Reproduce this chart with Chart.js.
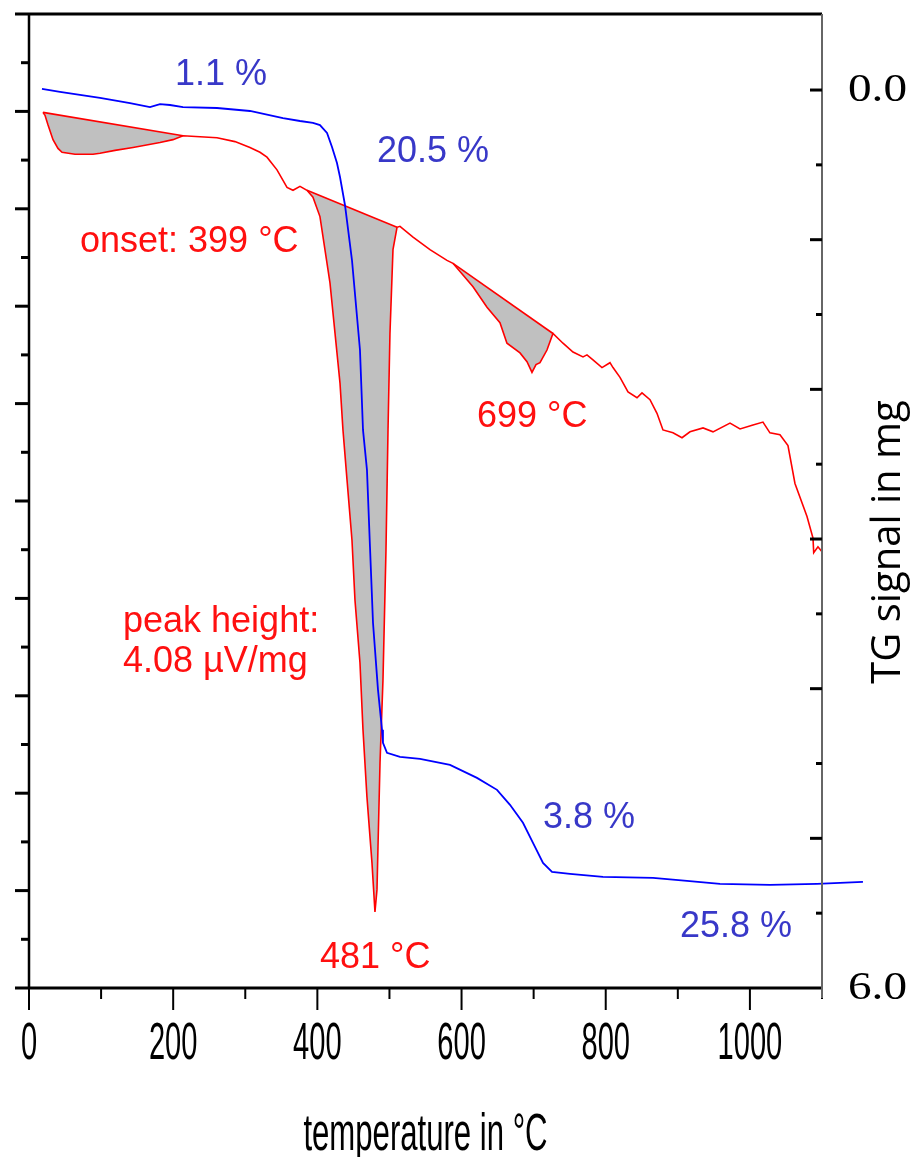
<!DOCTYPE html>
<html lang="en">
<head>
<meta charset="UTF-8">
<title>DTA / TG</title>
<script src="https://cdn.jsdelivr.net/npm/chart.js"></script>
<style>
  html, body { margin: 0; padding: 0; background: #fff; }
  canvas { display: block; }
</style>
</head>
<body>
<canvas id="myChart" width="911" height="1157"></canvas>
<script>
// TG curve (blue, right axis, mg)
const blueTemp = [18.0, 43.0, 70.7, 98.5, 140.1, 167.8, 181.7, 195.6, 213.6, 260.8, 306.5, 352.3, 375.9, 393.9, 403.6, 413.4, 420.3, 427.2, 431.4, 438.3, 448.0, 459.1, 463.3, 468.8, 473.0, 477.2, 484.1, 489.7, 491.0, 496.6, 514.6, 542.4, 584.0, 621.4, 649.2, 667.2, 685.2, 699.1, 713.0, 725.5, 750.4, 796.2, 865.6, 912.7, 958.5, 1027.9, 1093.1, 1156.8];
const blueTg = [-0.007, 0.013, 0.033, 0.053, 0.087, 0.114, 0.094, 0.100, 0.114, 0.120, 0.140, 0.187, 0.207, 0.220, 0.234, 0.287, 0.381, 0.488, 0.581, 0.768, 1.136, 1.737, 2.271, 2.538, 3.053, 3.561, 4.008, 4.275, 4.362, 4.429, 4.456, 4.469, 4.509, 4.596, 4.676, 4.776, 4.896, 5.030, 5.164, 5.224, 5.237, 5.257, 5.264, 5.284, 5.304, 5.311, 5.304, 5.291];

// DTA curve (red, left axis, no labels)
const redTemp = [19.4, 22.2, 26.4, 33.3, 40.2, 45.8, 63.8, 88.8, 98.5, 119.3, 144.3, 181.7, 199.7, 213.6, 237.2, 260.8, 285.7, 306.5, 320.4, 330.1, 344.0, 357.9, 366.2, 375.9, 385.6, 393.9, 403.6, 417.5, 431.4, 435.5, 441.1, 448.0, 452.2, 459.1, 463.3, 468.8, 475.8, 479.9, 482.7, 484.1, 486.9, 491.0, 495.2, 498.0, 500.7, 504.9, 510.5, 514.6, 532.7, 556.2, 579.8, 588.1, 602.0, 615.9, 635.3, 653.3, 663.0, 681.1, 690.8, 697.7, 703.3, 708.8, 718.5, 726.8, 740.7, 754.6, 768.5, 774.0, 782.3, 794.8, 805.9, 810.1, 819.8, 830.9, 843.4, 850.3, 861.4, 871.1, 879.4, 893.3, 905.8, 916.9, 935.0, 948.8, 972.4, 986.3, 1004.3, 1018.1, 1027.8, 1041.7, 1052.8, 1062.5, 1079.2, 1087.5, 1088.5, 1094.4, 1100];
const redDta = [8.99, 8.96, 8.86, 8.71, 8.62, 8.58, 8.56, 8.56, 8.57, 8.60, 8.63, 8.68, 8.71, 8.75, 8.74, 8.73, 8.69, 8.63, 8.58, 8.53, 8.40, 8.22, 8.19, 8.23, 8.19, 8.12, 7.92, 7.24, 6.21, 5.73, 5.22, 4.60, 3.98, 3.34, 2.65, 1.96, 1.28, 0.78, 1.01, 1.45, 2.31, 3.16, 4.50, 5.73, 6.72, 7.58, 7.81, 7.82, 7.71, 7.58, 7.47, 7.44, 7.32, 7.20, 6.99, 6.83, 6.62, 6.52, 6.43, 6.32, 6.40, 6.42, 6.55, 6.72, 6.62, 6.53, 6.48, 6.50, 6.45, 6.37, 6.42, 6.37, 6.27, 6.12, 6.06, 6.11, 6.04, 5.90, 5.73, 5.70, 5.65, 5.71, 5.75, 5.71, 5.80, 5.74, 5.78, 5.81, 5.70, 5.68, 5.57, 5.18, 4.84, 4.62, 4.47, 4.53, 4.48];

// tangent (baseline) lines of the three DTA peaks
const tanStartT = [19.4, 385.6, 588.1];
const tanStartV = [8.99, 8.19, 7.44];
const tanEndT = [213.6, 510.5, 726.8];
const tanEndV = [8.75, 7.81, 6.72];

// axis ticks
const xTicks = [0, 200, 400, 600, 800, 1000];
const rightTicks = [0, 6];

const RED = '#ff0000';
const BLUE = '#0000ff';
const TXT_RED = '#ff1010';
const TXT_BLUE = '#3838c8';

const pts = (xs, ys) => xs.map((t, i) => ({ x: t, y: ys[i] }));
const redPts = pts(redTemp, redDta);

const datasets = [
  { data: pts(blueTemp, blueTg), yAxisID: 'y1', borderColor: BLUE, borderWidth: 1.8, clip: false },
  { data: redPts, yAxisID: 'y', borderColor: RED, borderWidth: 1.6 }
];
tanStartT.forEach((t, i) => {
  datasets.push({
    data: [{ x: t, y: tanStartV[i] }, { x: tanEndT[i], y: tanEndV[i] }],
    yAxisID: 'y', borderColor: RED, borderWidth: 1.6
  });
});
tanStartT.forEach((t, i) => {
  datasets.push({
    data: redPts.filter(p => p.x >= t && p.x <= tanEndT[i]),
    yAxisID: 'y', borderWidth: 0, borderColor: 'rgba(0,0,0,0)',
    backgroundColor: '#c0c0c0', fill: 2 + i
  });
});

function condensed(ctx, str, x, y, font, sx, align) {
  ctx.save();
  ctx.font = font;
  ctx.textAlign = align || 'center';
  ctx.translate(x, y);
  ctx.scale(sx, 1);
  ctx.fillText(str, 0, 0);
  ctx.restore();
}

const frame = {
  id: 'frame',
  afterDraw(chart) {
    const { ctx, scales: { x, y, y1 } } = chart;
    const L = x.left, R = x.right, T = y.top, B = y.bottom;
    ctx.save();
    ctx.strokeStyle = '#000';
    ctx.lineCap = 'butt';

    // top and bottom frame
    ctx.lineWidth = 3;
    ctx.beginPath();
    ctx.moveTo(L - 14, T); ctx.lineTo(R, T);
    ctx.moveTo(L - 14, B); ctx.lineTo(R, B);
    ctx.stroke();

    // left axis
    ctx.lineWidth = 2.5;
    ctx.beginPath();
    ctx.moveTo(L, T); ctx.lineTo(L, B);
    ctx.stroke();
    ctx.lineWidth = 3;
    for (let v = 0.5; v < 10; v += 0.5) {
      const py = y.getPixelForValue(v);
      const len = Number.isInteger(v) ? 14 : 8;
      ctx.beginPath(); ctx.moveTo(L - len, py); ctx.lineTo(L, py); ctx.stroke();
    }

    // bottom ticks
    ctx.lineWidth = 2;
    for (let v = 0; v <= 1100; v += 100) {
      const px = x.getPixelForValue(v);
      const len = v % 200 === 0 ? 22 : 11;
      ctx.beginPath(); ctx.moveTo(px, B); ctx.lineTo(px, B + len); ctx.stroke();
    }

    // right axis
    ctx.strokeStyle = '#666';
    ctx.lineWidth = 2;
    ctx.beginPath(); ctx.moveTo(R, T); ctx.lineTo(R, B + 10); ctx.stroke();
    ctx.strokeStyle = '#000';
    ctx.lineWidth = 3;
    for (let v = 0; v < 6; v += 0.5) {
      const py = y1.getPixelForValue(v);
      const len = Number.isInteger(v) ? 12 : 6;
      ctx.beginPath(); ctx.moveTo(R - len, py); ctx.lineTo(R, py); ctx.stroke();
    }

    // tick labels
    ctx.fillStyle = '#000';
    ctx.textBaseline = 'middle';
    xTicks.forEach(v => {
      condensed(ctx, String(v), x.getPixelForValue(v), 1045, '51px "Liberation Sans"', 0.57);
    });
    rightTicks.forEach(v => {
      condensed(ctx, v.toFixed(1), R + 26, y1.getPixelForValue(v), '40px "Liberation Serif"', 1.18, 'left');
    });

    // axis titles
    ctx.textBaseline = 'alphabetic';
    condensed(ctx, 'temperature in °C', (L + R) / 2, 1150, '51px "Liberation Sans"', 0.61);
    ctx.save();
    ctx.translate(900, 542);
    ctx.rotate(-Math.PI / 2);
    ctx.font = '40px "Open Sans"';
    ctx.textAlign = 'center';
    ctx.fillText('TG signal in mg', 0, 0);
    ctx.restore();

    // annotations
    ctx.font = '36px "Liberation Sans"';
    ctx.textAlign = 'left';
    ctx.fillStyle = TXT_BLUE;
    ctx.fillText('1.1 %', 175, 85);
    ctx.fillText('20.5 %', 377, 162);
    ctx.fillText('3.8 %', 543, 828);
    ctx.fillText('25.8 %', 680, 937);
    ctx.fillStyle = TXT_RED;
    ctx.fillText('onset: 399 °C', 80, 252);
    ctx.fillText('peak height:', 123, 632);
    ctx.fillText('4.08 µV/mg', 123, 672);
    ctx.fillText('699 °C', 477, 427);
    ctx.fillText('481 °C', 320, 968);
    ctx.restore();
  }
};

new Chart(document.getElementById('myChart'), {
  type: 'line',
  data: { datasets },
  options: {
    responsive: false,
    animation: false,
    events: [],
    layout: { padding: { top: 14, left: 0, right: 0, bottom: 0 } },
    elements: { point: { radius: 0 }, line: { tension: 0, fill: false } },
    plugins: { legend: { display: false }, tooltip: { enabled: false } },
    scales: {
      x: {
        type: 'linear', min: 0, max: 1100,
        grid: { display: false }, border: { display: false }, ticks: { display: false },
        afterFit: s => { s.height = 169; }
      },
      y: {
        position: 'left', min: 0, max: 10,
        grid: { display: false }, border: { display: false }, ticks: { display: false },
        afterFit: s => { s.width = 29; }
      },
      y1: {
        position: 'right', min: -0.508, max: 6, reverse: true,
        grid: { display: false }, border: { display: false }, ticks: { display: false },
        afterFit: s => { s.width = 89; }
      }
    }
  },
  plugins: [frame]
});
</script>
</body>
</html>
